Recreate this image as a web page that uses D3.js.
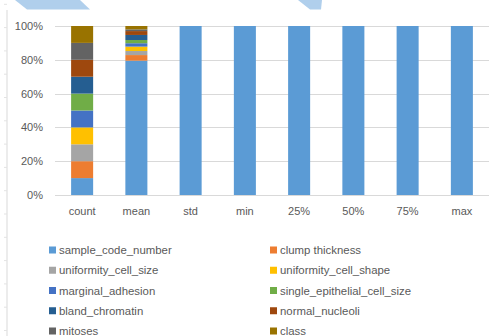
<!DOCTYPE html>
<html>
<head>
<meta charset="utf-8">
<script src="https://cdn.jsdelivr.net/npm/d3@7"></script>
<style>
  html, body { margin: 0; padding: 0; background: #ffffff; }
  svg { display: block; }
  text { font-family: "Liberation Sans", Arial, sans-serif; fill: #595959; }
</style>
</head>
<body>
<svg id="chart" width="497" height="336"></svg>
<script>
// Summary statistics (rows) and the dataset columns (stacked series)
const categories = ["count", "mean", "std", "min", "25%", "50%", "75%", "max"];
const seriesNames = [
  "sample_code_number", "clump thickness", "uniformity_cell_size", "uniformity_cell_shape",
  "marginal_adhesion", "single_epithelial_cell_size", "bland_chromatin", "normal_nucleoli",
  "mitoses", "class"
];
// Share of each column within every statistic, in percent
const sample_code_number          = [10, 79.5, 100, 100, 100, 100, 100, 100];
const clump_thickness             = [10, 3.3, 0, 0, 0, 0, 0, 0];
const uniformity_cell_size        = [10, 2.4, 0, 0, 0, 0, 0, 0];
const uniformity_cell_shape       = [10, 2.6, 0, 0, 0, 0, 0, 0];
const marginal_adhesion           = [10, 2.0, 0, 0, 0, 0, 0, 0];
const single_epithelial_cell_size = [10, 1.9, 0, 0, 0, 0, 0, 0];
const bland_chromatin             = [10, 3.0, 0, 0, 0, 0, 0, 0];
const normal_nucleoli             = [10, 2.3, 0, 0, 0, 0, 0, 0];
const mitoses                     = [10, 1.0, 0, 0, 0, 0, 0, 0];
const class_                      = [10, 2.0, 0, 0, 0, 0, 0, 0];
const yTickLabels = ["0%", "20%", "40%", "60%", "80%", "100%"];

const seriesValues = [
  sample_code_number, clump_thickness, uniformity_cell_size, uniformity_cell_shape,
  marginal_adhesion, single_epithelial_cell_size, bland_chromatin, normal_nucleoli,
  mitoses, class_
];
const colors = ["#5b9bd5", "#ed7d31", "#a5a5a5", "#ffc000", "#4472c4",
                "#70ad47", "#255e91", "#9e480e", "#636363", "#997300"];

const table = categories.map((c, i) => {
  const row = { category: c };
  seriesNames.forEach((s, j) => { row[s] = seriesValues[j][i]; });
  return row;
});

const svg = d3.select("#chart");

// Sheet decorations behind the chart
svg.append("polygon")
  .attr("points", "15,0 80,0 90,9.5 27,9.5")
  .attr("fill", "#b0cfec");
svg.append("polygon")
  .attr("points", "298,0 322,0 321,9.5 310,9.5")
  .attr("fill", "#b0cfec");
svg.append("line")
  .attr("x1", 7).attr("x2", 7).attr("y1", 10).attr("y2", 336)
  .attr("stroke", "#d9d9d9").attr("stroke-width", 1);
svg.append("g").selectAll("line")
  .data(d3.range(4.3, 336, 23.3))
  .join("line")
  .attr("x1", 4).attr("x2", 7)
  .attr("y1", d => d).attr("y2", d => d)
  .attr("stroke", "#e3e3e3").attr("stroke-width", 1);

const x = d3.scaleBand()
  .domain(categories)
  .range([55, 489])
  .paddingInner(0.594)
  .paddingOuter(0.297);

const y = d3.scaleLinear().domain([0, 1]).range([195, 26]);

// Gridlines and y tick labels
const yTicks = d3.range(0, 1.0001, 0.2);
const grid = svg.append("g");
grid.selectAll("line")
  .data(yTicks)
  .join("line")
  .attr("x1", 55).attr("x2", 489)
  .attr("y1", d => Math.round(y(d)) + 0.5)
  .attr("y2", d => Math.round(y(d)) + 0.5)
  .attr("stroke", "#d9d9d9").attr("stroke-width", 1);

const yAxis = d3.axisLeft(y)
  .tickValues(yTicks)
  .tickFormat((d, i) => yTickLabels[i])
  .tickSize(0)
  .tickPadding(0);
svg.append("g")
  .attr("transform", "translate(43,0)")
  .call(yAxis)
  .call(g => g.select(".domain").remove())
  .call(g => g.selectAll("text")
    .attr("font-size", "11px")
    .attr("font-family", "Liberation Sans, Arial, sans-serif")
    .attr("fill", "#595959"));

// Stacked 100% bars
const stack = d3.stack().keys(seriesNames).offset(d3.stackOffsetExpand);
const layers = stack(table);

svg.append("g")
  .selectAll("g")
  .data(layers)
  .join("g")
  .attr("fill", (d, i) => colors[i])
  .selectAll("rect")
  .data(d => d)
  .join("rect")
  .attr("x", d => x(d.data.category))
  .attr("width", x.bandwidth())
  .attr("y", d => y(d[1]))
  .attr("height", d => Math.max(0, y(d[0]) - y(d[1])));

// X axis labels
const xAxis = d3.axisBottom(x).tickSize(0).tickPadding(0);
svg.append("g")
  .attr("transform", "translate(0,207)")
  .call(xAxis)
  .call(g => g.select(".domain").remove())
  .call(g => g.selectAll("text")
    .attr("font-size", "11px")
    .attr("font-family", "Liberation Sans, Arial, sans-serif")
    .attr("fill", "#595959"));

// Legend in two columns
const legend = svg.append("g");
const colX = [49, 270];
const rowY = i => 250 + i * 20.25;
const items = legend.selectAll("g")
  .data(seriesNames)
  .join("g")
  .attr("transform", (d, i) => `translate(${colX[i % 2]},${rowY(Math.floor(i / 2))})`);
items.append("rect")
  .attr("x", 0).attr("y", -3.5)
  .attr("width", 7).attr("height", 7)
  .attr("fill", (d, i) => colors[i]);
items.append("text")
  .attr("x", 10).attr("y", 0)
  .attr("dy", "0.35em")
  .attr("font-size", "11.4px")
  .text(d => d);
</script>
</body>
</html>
